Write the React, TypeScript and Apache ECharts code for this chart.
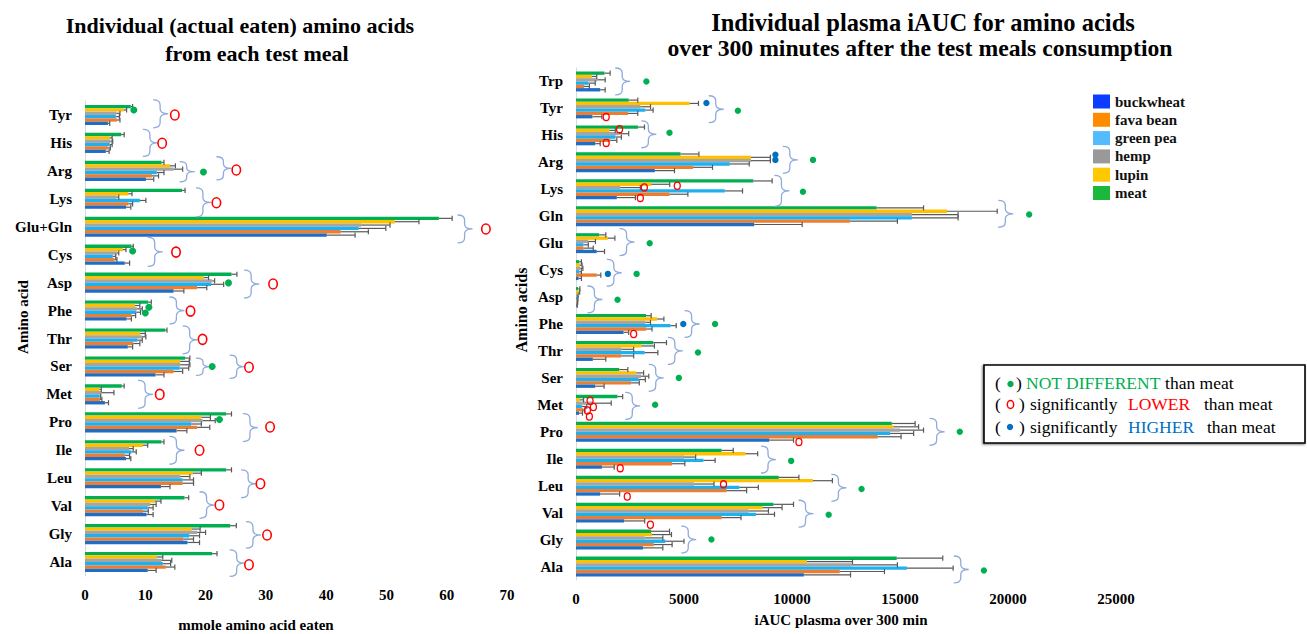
import React, { useEffect, useRef } from 'react';
import * as echarts from 'echarts';

const FONT = "'Liberation Serif', 'Times New Roman', serif";

// ---------- categories ----------
const leftCategories = ['Tyr', 'His', 'Arg', 'Lys', 'Glu+Gln', 'Cys', 'Asp', 'Phe', 'Thr', 'Ser', 'Met', 'Pro', 'Ile', 'Leu', 'Val', 'Gly', 'Ala'];
const rightCategories = ['Trp', 'Tyr', 'His', 'Arg', 'Lys', 'Gln', 'Glu', 'Cys', 'Asp', 'Phe', 'Thr', 'Ser', 'Met', 'Pro', 'Ile', 'Leu', 'Val', 'Gly', 'Ala'];

const legendNames = ['buckwheat', 'fava bean', 'green pea', 'hemp', 'lupin', 'meat'];
// order of bars inside a group, from top to bottom
const groupOrder = ['meat', 'lupin', 'hemp', 'green pea', 'fava bean', 'buckwheat'];

const xTicksLeft = [0, 70, 10];
const xTicksRight = [0, 25000, 5000];

// ---------- left chart: mmole amino acid eaten ----------
const leftMeat = [7.6, 6.0, 12.7, 16.1, 58.7, 7.7, 24.3, 10.5, 13.3, 16.6, 6.1, 23.4, 12.7, 23.4, 16.5, 24.1, 21.1];
const leftMeatErr = [7.9, 6.5, 13.1, 16.6, 60.9, 8.0, 25.2, 11.0, 13.6, 17.4, 6.5, 24.3, 13.1, 24.3, 17.2, 25.1, 21.9];
const leftLupin = [6.4, 4.1, 14.1, 7.2, 51.4, 6.3, 19.7, 8.3, 9.1, 15.8, 2.4, 19.3, 9.6, 17.9, 11.6, 17.7, 11.9];
const leftLupinErr = [6.9, 4.5, 15.0, 7.8, 55.4, 6.8, 20.5, 9.1, 10.0, 17.3, 2.7, 20.8, 10.4, 19.3, 12.6, 19.1, 12.9];
const leftHemp = [5.2, 4.2, 14.7, 5.2, 45.8, 5.3, 21.1, 8.6, 9.4, 15.8, 2.7, 19.5, 7.3, 15.8, 10.8, 18.6, 12.7];
const leftHempErr = [5.8, 4.6, 16.2, 5.6, 50.6, 5.6, 21.5, 9.5, 10.1, 17.4, 4.8, 21.6, 8.0, 17.4, 11.8, 20.0, 14.4];
const leftPea = [5.1, 4.1, 11.9, 9.1, 45.4, 4.6, 20.9, 8.5, 8.7, 15.7, 2.4, 17.6, 7.7, 16.2, 10.4, 17.3, 12.9];
const leftPeaErr = [5.7, 4.5, 13.1, 10.1, 49.9, 5.1, 23.0, 9.2, 9.5, 17.2, 2.6, 19.3, 8.5, 18.0, 11.3, 19.0, 14.2];
const leftFava = [5.3, 3.8, 11.1, 7.2, 42.4, 4.9, 18.6, 7.7, 8.0, 14.7, 2.5, 18.6, 6.6, 16.2, 9.6, 16.3, 13.4];
const leftFavaErr = [5.8, 4.2, 12.2, 7.9, 47.0, 5.3, 20.2, 8.4, 9.1, 16.2, 2.8, 20.7, 7.4, 18.0, 10.5, 18.0, 14.9];
const leftBuck = [3.8, 3.45, 10.1, 6.8, 40.1, 6.6, 14.7, 6.9, 7.1, 11.7, 3.3, 15.2, 6.8, 12.6, 10.2, 17.0, 10.4];
const leftBuckErr = [4.1, 4.0, 11.4, 7.6, 44.8, 7.4, 16.4, 7.7, 7.9, 13.1, 3.9, 16.9, 7.6, 14.1, 11.3, 19.0, 11.8];

// ---------- right chart: iAUC plasma over 300 min ----------
const rightMeat = [1320, 2440, 2870, 4840, 8210, 13920, 1070, 150, 100, 3240, 3570, 2000, 1920, 14620, 6740, 9390, 9140, 3480, 14850];
const rightMeatErr = [1580, 2860, 3170, 5690, 9080, 16090, 1380, 250, 180, 3480, 4190, 2400, 2160, 15700, 7280, 10320, 10070, 4330, 16980];
const rightLupin = [730, 5260, 1550, 8100, 3480, 17180, 1470, 180, 120, 3760, 3030, 2790, 190, 14700, 7840, 10970, 8640, 3520, 10690];
const rightLupinErr = [960, 5670, 1820, 9000, 4340, 19500, 1800, 280, 170, 4070, 3630, 3130, 350, 15860, 8410, 11870, 9540, 4420, 12800];
const rightHemp = [990, 2980, 1970, 8100, 2050, 15550, 570, 200, 60, 3210, 2100, 3010, 790, 15000, 5000, 5460, 7990, 3180, 12760];
const rightHempErr = [1350, 3450, 2440, 9000, 2980, 17690, 900, 320, 100, 3450, 2670, 3370, 1630, 16090, 5540, 6390, 8910, 4020, 14880];
const rightPea = [570, 3210, 1820, 7120, 6890, 15550, 340, 150, 50, 4380, 3180, 2900, 270, 14540, 5900, 7560, 8330, 4140, 15320];
const rightPeaErr = [890, 3570, 2100, 8020, 7710, 17690, 570, 250, 90, 4640, 3790, 3210, 500, 15630, 6440, 8440, 9190, 5000, 17460];
const rightFava = [370, 2410, 1580, 5420, 4330, 12680, 340, 960, 40, 3260, 2100, 2550, 340, 13970, 4450, 6980, 6750, 3600, 12210];
const rightFavaErr = [620, 2860, 1890, 6320, 5180, 14880, 800, 1150, 80, 3520, 2670, 2930, 420, 15050, 5040, 7900, 7640, 4450, 14280];
const rightBuck = [1120, 760, 890, 3650, 1890, 8250, 960, 120, 30, 2200, 780, 890, 140, 8950, 1200, 1120, 2230, 3100, 10550];
const rightBuckErr = [1350, 1200, 1120, 4560, 2750, 10470, 1320, 250, 60, 2440, 1380, 1300, 300, 10070, 1770, 2020, 3180, 4020, 12710];

// ---------- significance annotations: [category, x value, vertical shift in bands, (brace height in bands)] ----------
const leftBraces: [string, number, number, number][] = [
  ['Tyr', 11.3, -0.04, 1.0], ['His', 9.6, 0, 0.97], ['Arg', 15.7, 0.03, 0.72], ['Arg', 21.8, -0.09, 0.83],
  ['Lys', 18.4, 0.13, 1.04], ['Glu+Gln', 61.8, 0.08, 1.0], ['Cys', 10.4, -0.1, 1.04], ['Asp', 26.4, 0.05, 1.0],
  ['Phe', 14.0, 0, 0.97], ['Thr', 16.2, 0.05, 1.0], ['Ser', 18.4, 0.01, 0.62], ['Ser', 24.0, 0.01, 0.83],
  ['Met', 8.8, 0, 1.0], ['Pro', 26.2, 0.19, 1.0], ['Ile', 14.0, 0, 1.0], ['Leu', 25.9, 0.2, 1.0],
  ['Val', 19.0, -0.04, 0.95], ['Gly', 26.7, 0.03, 0.95], ['Ala', 24.0, 0.04, 0.95],
];
const leftLower: [string, number, number][] = [
  ['Tyr', 14.9, 0], ['His', 12.8, 0.01], ['Arg', 25.1, -0.03], ['Lys', 21.8, 0.14], ['Glu+Gln', 66.5, 0.08],
  ['Cys', 15.1, -0.09], ['Asp', 31.2, 0.05], ['Phe', 17.5, 0.02], ['Thr', 19.5, 0.03], ['Ser', 27.2, 0.03],
  ['Met', 12.4, 0], ['Pro', 30.7, 0.17], ['Ile', 19.0, 0], ['Leu', 29.1, 0.2], ['Val', 22.3, -0.04],
  ['Gly', 30.2, 0.03], ['Ala', 27.2, 0.1],
];
const leftSame: [string, number, number][] = [
  ['Tyr', 8.1, -0.18], ['Arg', 19.65, 0.04], ['Cys', 7.9, -0.13], ['Asp', 23.8, 0.01],
  ['Phe', 10.6, -0.12], ['Phe', 10.0, 0.09], ['Ser', 21.1, 0], ['Pro', 22.3, -0.1],
];

const rightBraces: [string, number, number, number][] = [
  ['Trp', 1815, 0, 1.0], ['Tyr', 6145, 0.03, 1.0], ['His', 3026, -0.04, 1.0], ['Arg', 9575, -0.09, 1.0],
  ['Lys', 9187, 0.06, 1.15], ['Gln', 19551, -0.09, 1.0], ['Glu', 2017, -0.04, 1.0], ['Cys', 1427, 0.1, 1.0],
  ['Asp', 528, 0.09, 1.0], ['Phe', 5027, 0, 1.0], ['Thr', 4251, 0, 1.0], ['Ser', 3366, 0, 1.0],
  ['Met', 2281, 0.04, 1.0], ['Pro', 16372, 0, 1.0], ['Ile', 8565, 0.03, 1.0], ['Leu', 11824, 0.08, 1.0],
  ['Val', 10302, 0.04, 1.0], ['Gly', 4873, 0, 1.0], ['Ala', 17489, 0.11, 1.0],
];
const rightSame: [string, number, number][] = [
  ['Trp', 3259, 0], ['Tyr', 7495, 0.09], ['His', 4329, -0.1], ['Arg', 10972, -0.09], ['Lys', 10507, 0.09],
  ['Gln', 20980, -0.06], ['Glu', 3412, 0], ['Cys', 2807, 0.14], ['Asp', 1923, 0.1], ['Phe', 6438, 0],
  ['Thr', 5647, 0.06], ['Ser', 4762, 0], ['Met', 3663, 0], ['Pro', 17768, 0], ['Ile', 9962, 0.08],
  ['Leu', 13220, 0.12], ['Val', 11698, 0.08], ['Gly', 6270, 0], ['Ala', 18885, 0.15],
];
const rightHigher: [string, number, number][] = [
  ['Tyr', 6038, -0.2], ['Arg', 9231, -0.28], ['Arg', 9231, -0.09], ['Cys', 1476, 0.14], ['Phe', 4967, 0],
];
const rightLower: [string, number, number][] = [
  ['Tyr', 1397, 0.32], ['His', 2017, -0.23], ['His', 1397, 0.28], ['Lys', 3165, -0.07], ['Lys', 4688, -0.13],
  ['Lys', 2979, 0.32], ['Phe', 2669, 0.37], ['Met', 652, -0.15], ['Met', 805, 0.08], ['Met', 526, 0.21],
  ['Met', 619, 0.43], ['Pro', 10320, 0.38], ['Ile', 2048, 0.35], ['Leu', 6829, -0.05], ['Leu', 2374, 0.4],
  ['Val', 3445, 0.45],
];

// ---------- styling ----------
const barColors: Record<string, string> = {
  buckwheat: '#1F6DC4', 'fava bean': '#ED7D31', 'green pea': '#1DB1F0', hemp: '#A5A5A5', lupin: '#FFC000', meat: '#00B050',
};
const legendColors: Record<string, string> = {
  buckwheat: '#0A3DFF', 'fava bean': '#FF8C00', 'green pea': '#55BBFF', hemp: '#999999', lupin: '#FFC800', meat: '#1CB83C',
};
const GREEN = '#00B050';
const RED = '#FF0000';
const BLUE = '#0070C0';
const BRACE = '#8FAADC';
const LEFT_GAP = 0.28;
const RIGHT_GAP = 0.26;

const leftValues: Record<string, number[][]> = {
  meat: [leftMeat, leftMeatErr], lupin: [leftLupin, leftLupinErr], hemp: [leftHemp, leftHempErr],
  'green pea': [leftPea, leftPeaErr], 'fava bean': [leftFava, leftFavaErr], buckwheat: [leftBuck, leftBuckErr],
};
const rightValues: Record<string, number[][]> = {
  meat: [rightMeat, rightMeatErr], lupin: [rightLupin, rightLupinErr], hemp: [rightHemp, rightHempErr],
  'green pea': [rightPea, rightPeaErr], 'fava bean': [rightFava, rightFavaErr], buckwheat: [rightBuck, rightBuckErr],
};

function errorRenderer(gap: number) {
  return (params: any, api: any) => {
    const end = api.value(0);
    const ci = api.value(1);
    const k = api.value(2);
    const v = api.value(3);
    const p0 = api.coord([v, ci]);
    const p1 = api.coord([end, ci]);
    const band = api.size([0, 1])[1];
    const total = band * (1 - gap);
    const bw = total / 6;
    const y = p0[1] - total / 2 + (k + 0.5) * bw;
    const st = { stroke: '#595959', lineWidth: 1.2 };
    return {
      type: 'group',
      children: [
        { type: 'line', shape: { x1: p0[0], y1: y, x2: p1[0], y2: y }, style: st },
        { type: 'line', shape: { x1: p1[0], y1: y - 2.6, x2: p1[0], y2: y + 2.6 }, style: st },
      ],
    };
  };
}

function annotRenderer(big: boolean) {
  return (params: any, api: any) => {
    const x = api.value(0);
    const ci = api.value(1);
    const dy = api.value(2);
    const kind = api.value(3);
    const span = api.value(4);
    const p = api.coord([x, ci]);
    const band = api.size([0, 1])[1];
    const cy = p[1] + dy * band;
    const x0 = p[0];
    if (kind === 0) {
      const h = span * band;
      const t = cy - h / 2;
      const b = cy + h / 2;
      const w1 = 7;
      const w2 = 8;
      const r = Math.min(5, h / 5);
      const d =
        `M${x0},${t} Q${x0 + w1},${t} ${x0 + w1},${t + r} L${x0 + w1},${cy - r} ` +
        `Q${x0 + w1},${cy} ${x0 + w1 + w2},${cy} Q${x0 + w1},${cy} ${x0 + w1},${cy + r} ` +
        `L${x0 + w1},${b - r} Q${x0 + w1},${b} ${x0},${b}`;
      return { type: 'path', shape: { pathData: d }, style: { fill: 'none', stroke: BRACE, lineWidth: 1.3 } };
    }
    if (kind === 1 || kind === 2) {
      return {
        type: 'circle',
        shape: { cx: x0, cy, r: big ? 3.5 : 3.2 },
        style: { fill: kind === 1 ? GREEN : BLUE },
      };
    }
    return {
      type: 'ellipse',
      shape: { cx: x0, cy, rx: big ? 4.2 : 3.0, ry: big ? 5.0 : 3.6 },
      style: { fill: 'none', stroke: RED, lineWidth: big ? 1.6 : 1.3 },
    };
  };
}

function buildSeries() {
  const series: any[] = [];
  const grids = [
    { cats: leftCategories, vals: leftValues, gap: LEFT_GAP, braces: leftBraces, same: leftSame, higher: [] as [string, number, number][], lower: leftLower, big: true },
    { cats: rightCategories, vals: rightValues, gap: RIGHT_GAP, braces: rightBraces, same: rightSame, higher: rightHigher, lower: rightLower, big: false },
  ];
  grids.forEach((g, gi) => {
    groupOrder.forEach((name) => {
      series.push({
        type: 'bar',
        name,
        xAxisIndex: gi,
        yAxisIndex: gi,
        data: g.vals[name][0],
        itemStyle: { color: barColors[name] },
        barGap: '0%',
        barCategoryGap: `${g.gap * 100}%`,
        silent: true,
      });
    });
    const errData: number[][] = [];
    groupOrder.forEach((name, k) => {
      const [v, e] = g.vals[name];
      v.forEach((val, i) => errData.push([e[i], i, k, val]));
    });
    series.push({
      type: 'custom',
      xAxisIndex: gi,
      yAxisIndex: gi,
      renderItem: errorRenderer(g.gap),
      encode: { x: 0, y: 1 },
      data: errData,
      clip: false,
      silent: true,
      z: 3,
    });
    const ann: number[][] = [];
    g.braces.forEach(([c, x, dy, s]) => ann.push([x, g.cats.indexOf(c), dy, 0, s]));
    g.same.forEach(([c, x, dy]) => ann.push([x, g.cats.indexOf(c), dy, 1, 0]));
    g.higher.forEach(([c, x, dy]) => ann.push([x, g.cats.indexOf(c), dy, 2, 0]));
    g.lower.forEach(([c, x, dy]) => ann.push([x, g.cats.indexOf(c), dy, 3, 0]));
    series.push({
      type: 'custom',
      xAxisIndex: gi,
      yAxisIndex: gi,
      renderItem: annotRenderer(g.big),
      encode: { x: 0, y: 1 },
      data: ann,
      clip: false,
      silent: true,
      z: 5,
    });
  });
  return series;
}

const axisLabelStyle = { fontFamily: FONT, fontWeight: 'bold', fontSize: 15, color: '#000' };

function txt(x: number, y: number, text: string, opts: any = {}) {
  return {
    type: 'text',
    x,
    y,
    rotation: opts.rotation || 0,
    style: {
      text,
      fill: opts.color || '#000',
      fontFamily: FONT,
      fontWeight: opts.weight || 'bold',
      fontSize: opts.size || 15,
      align: opts.align || 'center',
      verticalAlign: 'middle',
    },
  };
}

function buildGraphic() {
  const KEY = { size: 17.5, weight: 'normal', align: 'left' };
  return [
    txt(240, 25, 'Individual (actual eaten) amino acids', { size: 22 }),
    txt(257, 53, 'from each test meal', { size: 22 }),
    txt(923, 22, 'Individual plasma iAUC for amino acids', { size: 24.5 }),
    txt(920, 48, 'over 300 minutes after the test meals consumption', { size: 23.7 }),
    txt(256, 625, 'mmole amino acid eaten', { size: 15 }),
    txt(841, 620, 'iAUC plasma over 300 min', { size: 15 }),
    txt(23, 317, 'Amino acid', { size: 15, rotation: Math.PI / 2 }),
    txt(521, 310, 'Amino acids', { size: 16, rotation: Math.PI / 2 }),
    {
      type: 'rect',
      shape: { x: 984, y: 365, width: 321, height: 78 },
      style: { fill: '#fff', stroke: '#000', lineWidth: 1.6, shadowBlur: 2, shadowOffsetX: -1, shadowOffsetY: 1, shadowColor: 'rgba(0,0,0,0.5)' },
    },
    txt(995, 383, '(', KEY),
    { type: 'circle', shape: { cx: 1010.5, cy: 384, r: 3.2 }, style: { fill: GREEN } },
    txt(1016, 383, ')', KEY),
    {
      type: 'text',
      x: 1026,
      y: 383,
      style: {
        text: '{g|NOT DIFFERENT} {k|than meat}',
        fontFamily: FONT,
        fontSize: 17.5,
        fill: '#000',
        align: 'left',
        verticalAlign: 'middle',
        rich: {
          g: { fill: GREEN, fontFamily: FONT, fontSize: 17.5 },
          k: { fill: '#000', fontFamily: FONT, fontSize: 17.5 },
        },
      },
    },
    txt(995, 404, '(', KEY),
    { type: 'ellipse', shape: { cx: 1010.5, cy: 404.5, rx: 3.2, ry: 4 }, style: { fill: 'none', stroke: RED, lineWidth: 1.5 } },
    txt(1019, 404, ')', KEY),
    txt(1030, 404, 'significantly', KEY),
    txt(1128, 404, 'LOWER', { ...KEY, color: RED }),
    txt(1204, 404, 'than meat', KEY),
    txt(995, 426.5, '(', KEY),
    { type: 'circle', shape: { cx: 1010, cy: 427, r: 3.2 }, style: { fill: BLUE } },
    txt(1019, 426.5, ')', KEY),
    txt(1030, 426.5, 'significantly', KEY),
    txt(1128, 426.5, 'HIGHER', { ...KEY, color: BLUE }),
    txt(1207, 426.5, 'than meat', KEY),
  ];
}

function buildOption() {
  const yAxisBase = {
    type: 'category',
    inverse: true,
    axisLine: { show: true, lineStyle: { color: '#D9D9D9', width: 1 } },
    axisTick: { show: false },
    axisLabel: { ...axisLabelStyle, margin: 13 },
    splitLine: { show: false },
  };
  const xAxisBase = {
    type: 'value',
    axisLine: { show: false },
    axisTick: { show: false },
    splitLine: { show: false },
    axisLabel: { ...axisLabelStyle, margin: 11, formatter: (v: number) => String(v) },
  };
  return {
    animation: false,
    backgroundColor: '#ffffff',
    legend: {
      orient: 'vertical',
      left: 1093,
      top: 94,
      padding: 0,
      itemWidth: 17,
      itemHeight: 14,
      itemGap: 3.3,
      icon: 'rect',
      selectedMode: false,
      data: legendNames.map((n) => ({ name: n, itemStyle: { color: legendColors[n] } })),
      textStyle: { fontFamily: FONT, fontWeight: 'bold', fontSize: 15, color: '#111' },
    },
    grid: [
      { left: 85, top: 101, width: 422, height: 475 },
      { left: 576, top: 68, width: 540, height: 512 },
    ],
    xAxis: [
      { ...xAxisBase, gridIndex: 0, min: xTicksLeft[0], max: xTicksLeft[1], interval: xTicksLeft[2] },
      { ...xAxisBase, gridIndex: 1, min: xTicksRight[0], max: xTicksRight[1], interval: xTicksRight[2] },
    ],
    yAxis: [
      { ...yAxisBase, gridIndex: 0, data: leftCategories },
      { ...yAxisBase, gridIndex: 1, data: rightCategories },
    ],
    series: buildSeries(),
    graphic: buildGraphic(),
  };
}

export default function App() {
  const ref = useRef<HTMLDivElement>(null);
  useEffect(() => {
    if (!ref.current) return;
    const chart = echarts.init(ref.current, null, { renderer: 'svg' });
    chart.setOption(buildOption() as any);
    return () => chart.dispose();
  }, []);
  return <div ref={ref} style={{ position: 'absolute', left: 0, top: 0, width: 1307, height: 634, background: '#fff' }} />;
}
